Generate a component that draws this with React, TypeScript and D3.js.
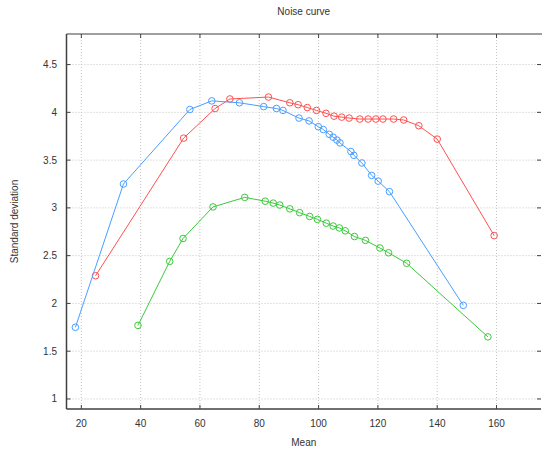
import React from "react";
import * as d3 from "d3";

const title = "Noise curve";
const xLabel = "Mean";
const yLabel = "Standard deviation";

const xTicks = [20, 40, 60, 80, 100, 120, 140, 160];
const yTicks = [1, 1.5, 2, 2.5, 3, 3.5, 4, 4.5];

const blueMean = [18.0, 34.2, 56.6, 64.0, 73.3, 81.5, 85.8, 88.0, 93.4, 96.8, 99.9, 101.6, 103.6, 104.9, 106.2, 107.2, 110.9, 111.9, 114.6, 117.9, 120.1, 123.9, 148.8];
const blueSd = [1.75, 3.25, 4.03, 4.12, 4.10, 4.06, 4.04, 4.02, 3.94, 3.91, 3.85, 3.82, 3.77, 3.74, 3.71, 3.68, 3.59, 3.55, 3.47, 3.34, 3.28, 3.17, 1.98];

const redMean = [24.8, 54.5, 65.1, 70.1, 83.1, 90.3, 93.1, 96.2, 99.3, 102.5, 105.2, 107.8, 110.3, 113.9, 116.7, 119.3, 121.7, 125.3, 128.7, 133.8, 140.0, 159.2];
const redSd = [2.29, 3.73, 4.04, 4.14, 4.16, 4.10, 4.08, 4.05, 4.02, 3.99, 3.96, 3.95, 3.94, 3.93, 3.93, 3.93, 3.93, 3.93, 3.92, 3.86, 3.72, 2.71];

const greenMean = [39.1, 49.8, 54.3, 64.4, 75.1, 82.0, 84.7, 86.9, 90.3, 93.6, 97.0, 99.6, 102.6, 104.9, 107.0, 109.0, 112.1, 115.8, 120.7, 123.6, 129.7, 157.1];
const greenSd = [1.77, 2.44, 2.68, 3.01, 3.11, 3.07, 3.05, 3.03, 2.99, 2.95, 2.91, 2.88, 2.84, 2.81, 2.79, 2.76, 2.70, 2.66, 2.58, 2.53, 2.42, 1.65];

const seriesColors = ["#ff5050", "#4a9eff", "#3cc83c"];

export default function App() {
  const W = 542, H = 453;
  const left = 66.5, right = 541, top = 34, bottom = 409;
  const x = d3.scaleLinear().domain([15, 175]).range([left, right]);
  const y = d3.scaleLinear().domain([0.895, 4.82]).range([bottom, top]);
  const line = d3.line<[number, number]>().x(d => x(d[0])).y(d => y(d[1]));

  const series = [
    { m: redMean, s: redSd, c: seriesColors[0] },
    { m: blueMean, s: blueSd, c: seriesColors[1] },
    { m: greenMean, s: greenSd, c: seriesColors[2] },
  ].map(o => ({ c: o.c, pts: o.m.map((v, i) => [v, o.s[i]] as [number, number]) }));

  const font = "'Liberation Sans', Arial, sans-serif";
  const axisColor = "#404040";
  const textColor = "#333";

  return (
    <svg width={W} height={H} style={{ position: "absolute", left: 0, top: 0, background: "#fff" }}>
      {/* grid */}
      {xTicks.map(t => (
        <line key={"gx" + t} x1={x(t)} x2={x(t)} y1={top} y2={bottom} stroke="#c4c4c4" strokeWidth={1} strokeDasharray="1,2" />
      ))}
      {yTicks.map(t => (
        <line key={"gy" + t} x1={left} x2={right} y1={y(t)} y2={y(t)} stroke="#c4c4c4" strokeWidth={1} strokeDasharray="1,2" />
      ))}
      {/* frame */}
      <line x1={left} x2={W} y1={top} y2={top} stroke={axisColor} strokeWidth={1.2} />
      <line x1={left} x2={right} y1={bottom} y2={bottom} stroke={axisColor} strokeWidth={1.5} />
      <line x1={left} x2={left} y1={top} y2={bottom} stroke={axisColor} strokeWidth={1.5} />
      {/* ticks */}
      {xTicks.map(t => (
        <g key={"tx" + t}>
          <line x1={x(t)} x2={x(t)} y1={bottom} y2={bottom - 4} stroke={axisColor} strokeWidth={1} />
          <line x1={x(t)} x2={x(t)} y1={top} y2={top + 4} stroke={axisColor} strokeWidth={1} />
          <text x={x(t)} y={bottom + 18} textAnchor="middle" fontFamily={font} fontSize={10} fill={textColor}>{t}</text>
        </g>
      ))}
      {yTicks.map(t => (
        <g key={"ty" + t}>
          <line x1={left} x2={left + 4} y1={y(t)} y2={y(t)} stroke={axisColor} strokeWidth={1} />
          <line x1={right} x2={right - 4} y1={y(t)} y2={y(t)} stroke={axisColor} strokeWidth={1} />
          <text x={57} y={y(t) + 3.5} textAnchor="end" fontFamily={font} fontSize={10} fill={textColor}>{t}</text>
        </g>
      ))}
      {/* series */}
      {series.map((s, i) => (
        <g key={"s" + i}>
          <path d={line(s.pts) || ""} fill="none" stroke={s.c} strokeWidth={1} />
          {s.pts.map((p, j) => (
            <circle key={j} cx={x(p[0])} cy={y(p[1])} r={3.3} fill="none" stroke={s.c} strokeWidth={1} />
          ))}
        </g>
      ))}
      {/* labels */}
      <text x={(left + right) / 2} y={15} textAnchor="middle" fontFamily={font} fontSize={10} fill={textColor}>{title}</text>
      <text x={(left + right) / 2} y={446} textAnchor="middle" fontFamily={font} fontSize={10} fill={textColor}>{xLabel}</text>
      <text transform={`translate(18, ${(top + bottom) / 2}) rotate(-90)`} textAnchor="middle" fontFamily={font} fontSize={10} fill={textColor}>{yLabel}</text>
    </svg>
  );
}
